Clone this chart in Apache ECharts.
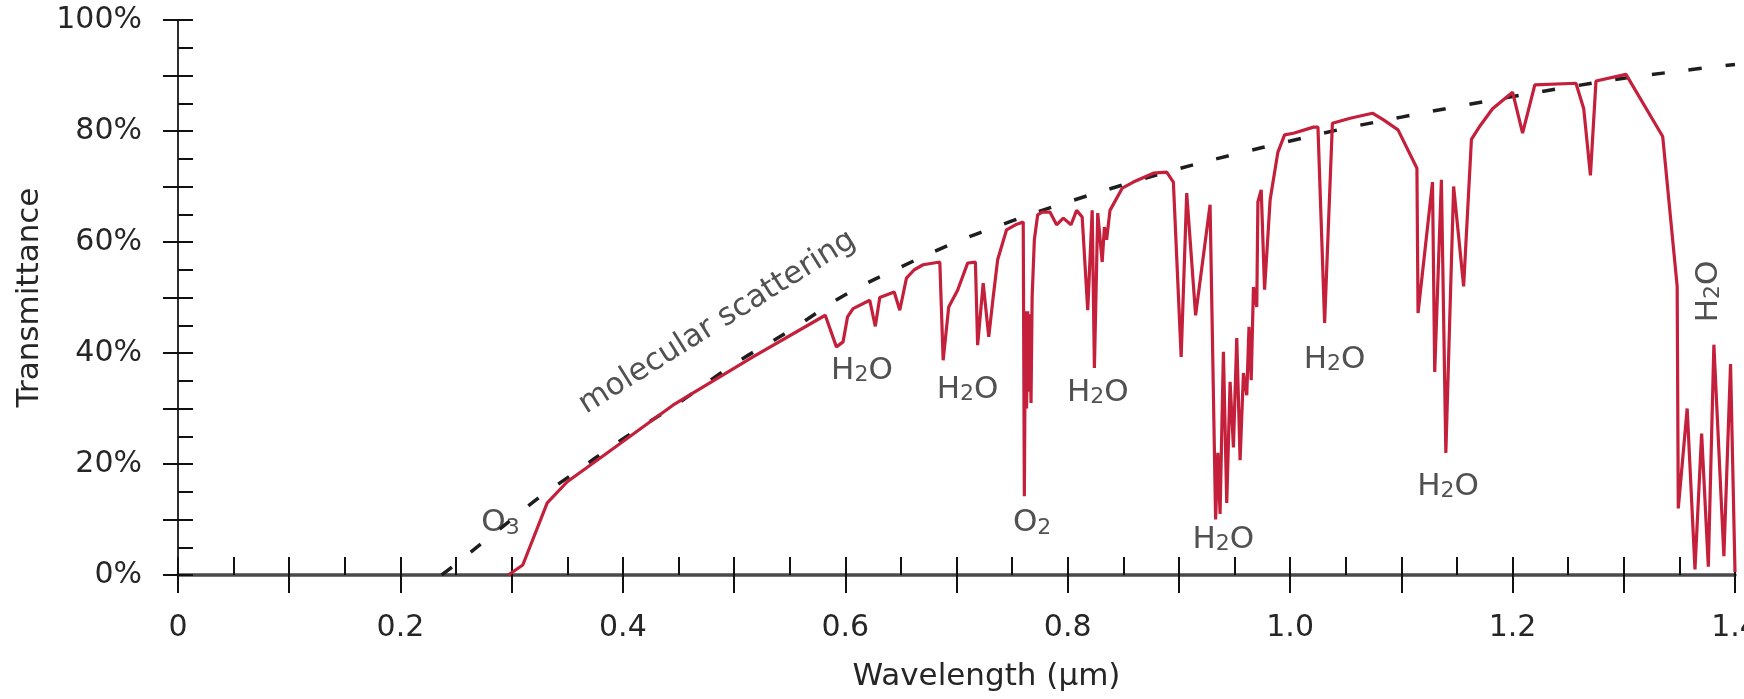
<!DOCTYPE html>
<html><head><meta charset="utf-8">
<script src="https://cdn.jsdelivr.net/npm/echarts@6/dist/echarts.min.js"></script>
<style>html,body{margin:0;padding:0;background:#fff}#c{width:1744px;height:699px}</style>
</head><body><div id="c"></div>
<script>
// ---- data ----
const wavelength = [0.297,0.31,0.332,0.35,0.379,0.445,0.517,0.582,0.592,0.598,0.602,0.607,0.622,0.627,0.631,0.644,0.649,0.655,0.662,0.670,0.685,0.688,0.693,0.701,0.710,0.717,0.719,0.724,0.729,0.733,0.737,0.745,0.753,0.760,0.761,0.762,0.763,0.764,0.765,0.766,0.767,0.768,0.770,0.773,0.777,0.784,0.790,0.796,0.803,0.808,0.813,0.818,0.822,0.824,0.827,0.831,0.833,0.835,0.838,0.849,0.859,0.877,0.889,0.895,0.902,0.907,0.915,0.928,0.933,0.935,0.937,0.940,0.943,0.946,0.949,0.952,0.955,0.958,0.961,0.963,0.965,0.967,0.970,0.971,0.974,0.977,0.982,0.989,0.995,1.003,1.021,1.025,1.031,1.038,1.054,1.074,1.084,1.097,1.114,1.115,1.128,1.130,1.136,1.140,1.147,1.156,1.163,1.171,1.182,1.200,1.209,1.220,1.257,1.264,1.270,1.275,1.302,1.335,1.348,1.349,1.357,1.364,1.370,1.376,1.381,1.390,1.396,1.400];
const transmittance = [0,1.8,13,16.8,21,30.6,39.3,46.8,41.1,42,46.5,48,49.5,44.8,50,51,47.7,53.5,55,55.9,56.4,38.7,48.3,51.3,56.2,56.4,41.4,52.6,42.9,50.1,56.8,62.2,63.1,63.6,14.2,47.5,30,47.5,33,47,31,50,60.4,64.9,65.4,65.4,63.1,64.3,63.1,65.7,64.5,47.7,65.7,37.3,65.2,56.4,62.7,60.4,65.7,69.7,70.8,72.4,72.6,70.8,39.3,68.8,46.8,66.7,10,22,11,40.2,13,34.8,23,42.7,20.7,36.4,32.4,44.7,35.1,51.9,48.3,67.2,69.4,51.4,67.6,76.2,79.3,79.6,80.7,80.7,45.4,81.4,82.3,83.2,82,80.2,73.3,47.2,70.8,36.6,71.2,22,70,52,78.5,81,84,87,79.6,88.3,88.6,84,72,89,90.2,79,52,12,30,1,25.5,1.5,41.5,3.4,38,0.5];
const scatterWavelength = [0.237,0.25,0.275,0.30,0.325,0.35,0.40,0.45,0.50,0.55,0.60,0.65,0.70,0.75,0.80,0.85,0.90,0.95,1.00,1.05,1.10,1.15,1.20,1.25,1.30,1.35,1.40];
const scatterTransmittance = [0,2,6,10,14,17.5,24.5,31,38,44,50.5,55.5,60,63.8,67.2,70.3,73.2,75.8,78.2,80.5,82.5,84.4,86.2,87.9,89.5,90.8,92];
const xTickLabels = ['0','0.2','0.4','0.6','0.8','1.0','1.2','1.4'];
const yTickLabels = ['0%','20%','40%','60%','80%','100%'];
const noteText = ['molecular scattering','O3','H2O','H2O','H2O','O2','H2O','H2O','H2O','H2O'];
const noteX = [0.485,0.29,0.615,0.71,0.827,0.768,0.94,1.04,1.142,1.37];
const noteY = [45.5,9.4,36.9,33.5,32.9,9.4,6.4,38.9,16,51.1];
const noteRotate = [32,0,0,0,0,0,0,0,0,90];

// ---- chart ----
const FONT = '"DejaVu Sans", "Liberation Sans", Arial, sans-serif';
const TXT = '#262626';
const FS = 30;
function richFormula(t){
  const m = t.match(/^([A-Z][a-z]?)(\d)([A-Z]?)$/);
  if (!m) return '{a|' + t + '}';
  return '{a|' + m[1] + '}{b|' + m[2] + '}' + (m[3] ? '{a|' + m[3] + '}' : '');
}
const notes = noteText.map((t, i) => {
  const isFormula = /\d/.test(t);
  return {
    value: [noteX[i], noteY[i]],
    label: {
      formatter: richFormula(t),
      rotate: noteRotate[i],
      offset: (isFormula && noteRotate[i] === 0) ? [0, -7] : [0, 0]
    }
  };
});

const chart = echarts.init(document.getElementById('c'), null, {renderer: 'canvas'});
const axisLine = {show: true, lineStyle: {color: '#111', width: 2}};
const tickStyle = {color: '#111', width: 2};
chart.setOption({
  animation: false,
  backgroundColor: '#ffffff',
  grid: {left: 178, right: 9, top: 20, bottom: 124, containLabel: false, outerBoundsMode: 'none'},
  xAxis: [
    {
      type: 'value', position: 'bottom', min: 0, max: 1.4, interval: 0.1,
      axisLine: axisLine,
      axisTick: {show: true, inside: false, length: 18, lineStyle: tickStyle},
      splitLine: {show: false},
      axisLabel: {
        show: true, margin: 38, color: TXT, fontFamily: FONT, fontSize: FS,
        formatter: v => { const k = Math.round(v / 0.2); return Math.abs(v - k * 0.2) < 1e-6 ? xTickLabels[k] : ''; }
      },
      name: 'Wavelength (\u00b5m)', nameLocation: 'middle', nameGap: 86,
      nameTextStyle: {color: TXT, fontFamily: FONT, fontSize: 31, padding: [0, 0, 0, 60]}
    },
    {
      type: 'value', position: 'bottom', min: 0, max: 1.4, interval: 0.05,
      axisLine: {show: false},
      axisTick: {show: true, inside: true, length: 18, lineStyle: tickStyle},
      axisLabel: {show: false}, splitLine: {show: false}
    },
    {
      type: 'value', position: 'top', min: 0, max: 1.4,
      axisLine: {show: true, lineStyle: {color: '#4a4a4a', width: 3.5}},
      axisTick: {show: false}, axisLabel: {show: false}, splitLine: {show: false}
    }
  ],
  yAxis: [
    {
      type: 'value', position: 'left', min: 0, max: 100, interval: 10,
      axisLine: axisLine,
      axisTick: {show: true, inside: false, length: 15, lineStyle: tickStyle},
      splitLine: {show: false},
      axisLabel: {
        show: true, margin: 36, color: TXT, fontFamily: FONT, fontSize: FS,
        formatter: v => (v % 20 === 0 ? yTickLabels[v / 20] : '')
      },
      name: 'Transmittance', nameLocation: 'middle', nameGap: 132,
      nameTextStyle: {color: TXT, fontFamily: FONT, fontSize: 31}
    },
    {
      type: 'value', position: 'left', min: 0, max: 100, interval: 5,
      axisLine: {show: false},
      axisTick: {show: true, inside: true, length: 15, lineStyle: tickStyle},
      axisLabel: {show: false}, splitLine: {show: false}
    },
    {
      type: 'value', position: 'right', min: 0, max: 100,
      axisLine: {show: true, lineStyle: {color: '#333', width: 1.8}},
      axisTick: {show: false}, axisLabel: {show: false}, splitLine: {show: false}
    }
  ],
  series: [
    {
      name: 'molecular scattering', type: 'line', xAxisIndex: 0, yAxisIndex: 0,
      data: scatterWavelength.map((x, i) => [x, scatterTransmittance[i]]),
      smooth: 0.4, symbol: 'none', z: 2,
      lineStyle: {color: '#1e1e1e', width: 3.5, type: [13, 24]}
    },
    {
      name: 'transmittance', type: 'line', xAxisIndex: 0, yAxisIndex: 0,
      data: wavelength.map((x, i) => [x, transmittance[i]]),
      symbol: 'none', z: 3,
      lineStyle: {color: '#c41f3b', width: 3.2}
    },
    {
      name: 'notes', type: 'scatter', xAxisIndex: 0, yAxisIndex: 0,
      symbolSize: 0, z: 4, silent: true,
      data: notes,
      label: {
        show: true, position: [0, 0], align: 'center', verticalAlign: 'middle',
        color: TXT, fontFamily: FONT,
        rich: {
          a: {fontSize: 31, color: TXT, fontFamily: FONT, verticalAlign: 'bottom'},
          b: {fontSize: 22, color: TXT, fontFamily: FONT, verticalAlign: 'bottom', padding: [24, 0, 0, 0]}
        }
      }
    }
  ]
});
</script></body></html>
